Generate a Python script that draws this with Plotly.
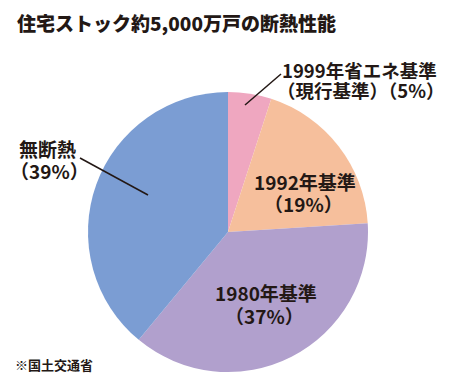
import plotly.graph_objects as go

W, H = 450, 378

categories = ["1999年省エネ基準（現行基準）", "1992年基準", "1980年基準", "無断熱"]
shares = [5, 19, 37, 39]
colors = ["#EFA7C0", "#F6BF9C", "#B1A0CD", "#7B9DD3"]

title_text = "住宅ストック約5,000万戸の断熱性能"
source_text = "※国土交通省"

TXT = "#231815"
FONT = "Noto Sans CJK JP"

def px(x):
    return x / W

def py(y):
    return 1 - y / H

cx, cy, r = 228, 232, 140

fig = go.Figure(go.Pie(
    labels=categories,
    values=shares,
    sort=False,
    direction="clockwise",
    rotation=0,
    marker=dict(colors=colors, line=dict(width=0)),
    textinfo="none",
    hoverinfo="label+percent",
    domain=dict(x=[px(cx - r), px(cx + r)], y=[py(cy + r), py(cy - r)]),
    showlegend=False,
))

ann = []
def add(text, x, y, size, anchor="center", weight="bold"):
    ann.append(dict(text=text, x=px(x), y=py(y), xref="paper", yref="paper",
                    xanchor=anchor, yanchor="middle", showarrow=False,
                    font=dict(family=FONT, size=size, color=TXT, weight=weight)))

add(title_text, 15, 23, 19, "left", 900)
add("1999年省エネ基準", 359, 70, 18.5)
add("（現行基準）（5%）", 360, 90, 18.5)
add("1992年基準", 305, 181, 19)
add("（19%）", 303, 203, 19)
add("1980年基準", 266, 292, 19)
add("（37%）", 264, 315, 19)
add("無断熱", 17, 148, 19, "left")
add("（39%）", 8, 170, 19, "left")
add(source_text, 13, 364, 13, "left")

shapes = [
    dict(type="line", xref="paper", yref="paper", x0=px(245), y0=py(105), x1=px(281), y1=py(74),
         line=dict(color=TXT, width=1.5)),
    dict(type="line", xref="paper", yref="paper", x0=px(80), y0=py(158), x1=px(148), y1=py(195),
         line=dict(color=TXT, width=1.5)),
]

fig.update_layout(
    width=W, height=H,
    margin=dict(l=0, r=0, t=0, b=0),
    paper_bgcolor="white", plot_bgcolor="white",
    annotations=ann, shapes=shapes,
)

fig.write_html("out.html", config={"displayModeBar": False},
               post_script="document.body.style.margin='0';document.body.style.overflow='hidden';")
